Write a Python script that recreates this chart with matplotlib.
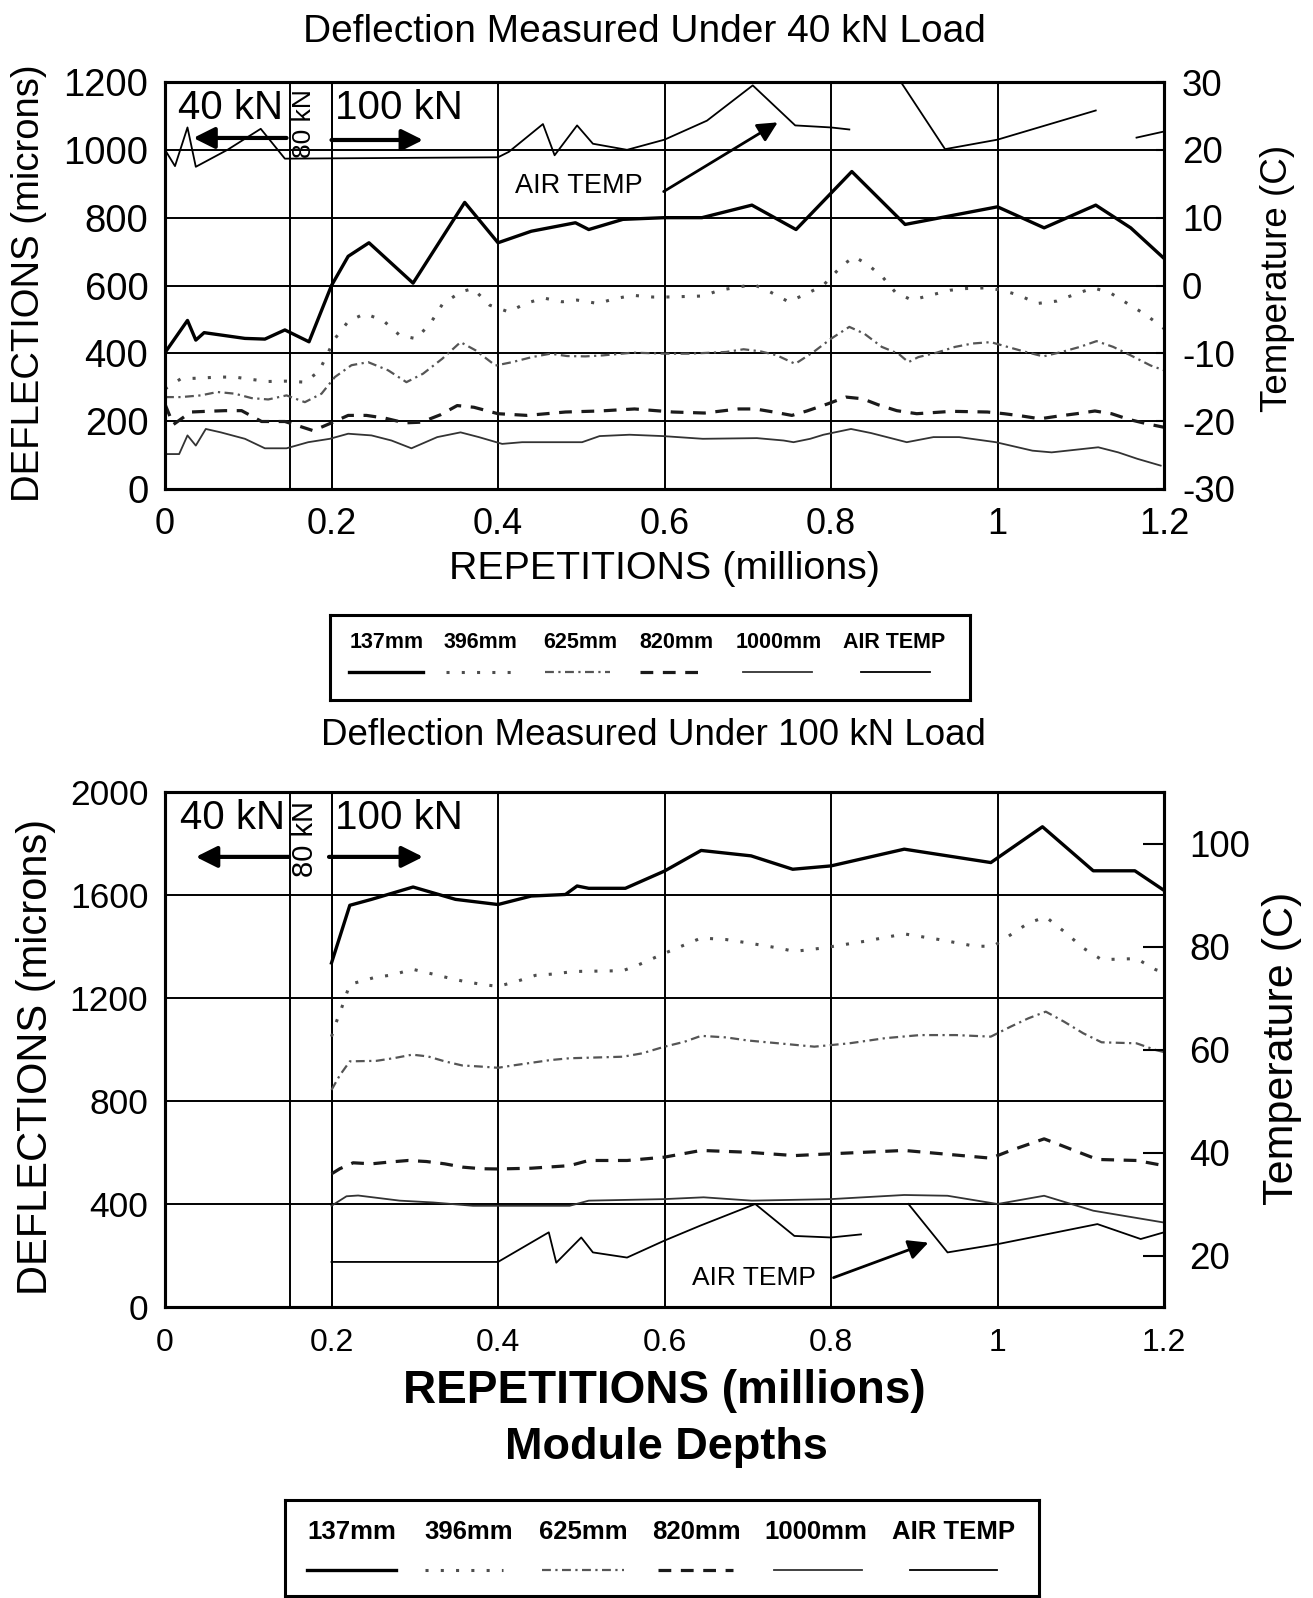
import numpy as np
import matplotlib
matplotlib.use("Agg")
import matplotlib.pyplot as plt
from matplotlib.ticker import FixedLocator, FixedFormatter

plt.rcParams['font.family'] = ['Liberation Sans', 'DejaVu Sans']
plt.rcParams['axes.unicode_minus'] = False

nan = np.nan

# ---------------- data: top chart (40 kN load) ----------------
top_x_137 = [0, 0.027, 0.037, 0.047, 0.096, 0.12, 0.144, 0.173, 0.2, 0.22, 0.245, 0.298, 0.36, 0.4, 0.44,
             0.493, 0.509, 0.55, 0.6, 0.645, 0.705, 0.758, 0.825, 0.889, 1.0, 1.056, 1.118, 1.16, 1.2]
top_d_137 = [402, 497, 439, 461, 444, 442, 469, 434, 600, 686, 726, 607, 845, 726, 760,
             785, 765, 795, 800, 800, 837, 765, 936, 780, 832, 770, 837, 770, 680]

top_x_396 = [0, 0.019, 0.043, 0.063, 0.084, 0.104, 0.124, 0.145, 0.168, 0.185,
             0.204, 0.22, 0.24, 0.262, 0.282, 0.302, 0.32, 0.333, 0.355, 0.37,
             0.39, 0.413, 0.433, 0.455, 0.477, 0.495, 0.52, 0.54, 0.562, 0.586,
             0.602, 0.646, 0.666, 0.707, 0.727, 0.749, 0.771, 0.791, 0.8, 0.814,
             0.828, 0.845, 0.862, 0.877, 0.897, 0.919, 0.943, 0.962, 0.986, 1.006,
             1.026, 1.048, 1.071, 1.093, 1.115, 1.135, 1.156, 1.178, 1.2]
top_d_396 = [295, 325, 327, 330, 330, 323, 317, 318, 315, 347,
             443, 494, 517, 497, 453, 443, 493, 544, 581, 591,
             542, 522, 547, 563, 552, 557, 547, 561, 571, 566,
             566, 569, 586, 603, 581, 552, 576, 601, 625, 660,
             685, 660, 625, 581, 557, 571, 586, 591, 593, 586,
             571, 547, 554, 574, 593, 579, 547, 514, 473]

top_x_625 = [0, 0.019, 0.043, 0.063, 0.084, 0.104, 0.124, 0.146, 0.168, 0.188,
             0.204, 0.224, 0.244, 0.268, 0.29, 0.31, 0.333, 0.355, 0.373, 0.397,
             0.417, 0.441, 0.463, 0.483, 0.505, 0.526, 0.562, 0.602, 0.63, 0.674,
             0.695, 0.715, 0.735, 0.757, 0.779, 0.8, 0.822, 0.84, 0.861, 0.881,
             0.893, 0.905, 0.927, 0.949, 0.97, 0.992, 1.012, 1.034, 1.055, 1.077,
             1.099, 1.119, 1.139, 1.16, 1.184, 1.2]
top_d_625 = [271, 271, 276, 286, 281, 268, 264, 276, 256, 281,
             330, 365, 374, 350, 315, 340, 384, 433, 409, 364,
             374, 389, 399, 392, 391, 394, 402, 399, 399, 404,
             412, 406, 394, 369, 404, 443, 478, 458, 419, 399,
             374, 389, 402, 419, 429, 433, 419, 404, 391, 404,
             419, 436, 419, 394, 364, 350]

top_x_820 = [0, 0.01, 0.031, 0.05, 0.072, 0.092, 0.116, 0.144, 0.178, 0.2,
             0.22, 0.242, 0.264, 0.288, 0.308, 0.331, 0.351, 0.371, 0.4, 0.435,
             0.481, 0.522, 0.564, 0.61, 0.648, 0.689, 0.709, 0.731, 0.753, 0.771,
             0.796, 0.818, 0.838, 0.857, 0.879, 0.903, 0.945, 0.988, 1.008, 1.03,
             1.051, 1.073, 1.095, 1.117, 1.137, 1.158, 1.18, 1.2]
top_d_820 = [250, 190, 227, 229, 231, 231, 199, 199, 172, 195,
             217, 217, 209, 195, 197, 219, 246, 241, 222, 217,
             227, 230, 236, 227, 224, 236, 236, 227, 217, 230,
             251, 271, 266, 248, 231, 222, 229, 227, 222, 215,
             207, 215, 222, 230, 222, 205, 192, 182]

top_x_1000 = [0, 0.017, 0.027, 0.037, 0.049, 0.067, 0.096, 0.12, 0.146, 0.172,
              0.198, 0.22, 0.248, 0.272, 0.296, 0.327, 0.355, 0.377, 0.405, 0.429,
              0.477, 0.501, 0.522, 0.558, 0.598, 0.646, 0.711, 0.743, 0.755, 0.775,
              0.791, 0.824, 0.848, 0.891, 0.923, 0.954, 0.998, 1.042, 1.065, 1.121,
              1.145, 1.168, 1.196]
top_d_1000 = [103, 103, 158, 128, 177, 167, 148, 120, 120, 138,
              148, 163, 158, 143, 120, 153, 167, 153, 133, 138,
              138, 138, 156, 160, 156, 148, 150, 143, 138, 148,
              160, 177, 165, 138, 153, 153, 138, 113, 108, 123,
              108, 89, 69]

top_x_air = [0, 0.012, 0.027, 0.037, 0.075, 0.115, 0.144, 0.4, 0.413, 0.454, 0.468, 0.495, 0.514,
             0.555, 0.6, 0.651, 0.706, 0.757, 0.8, 0.822, 0.85, 0.885, 0.937, 1.0, 1.118, 1.14,
             1.167, 1.2]
top_t_air = [20.0, 17.6, 23.3, 17.5, 20.0, 23.1, 18.7, 18.9, 19.7, 23.8, 19.2, 23.6, 20.9,
             20.0, 21.5, 24.3, 29.5, 23.6, 23.3, 23.0, nan, 29.8, 20.1, 21.5, 25.8, nan,
             21.8, 22.7]

# ---------------- data: bottom chart (100 kN load) ----------------
bot_x_137 = [0.2, 0.222, 0.248, 0.298, 0.349, 0.4, 0.44, 0.481, 0.495, 0.509, 0.553, 0.6, 0.644,
             0.704, 0.754, 0.8, 0.888, 0.992, 1.054, 1.115, 1.165, 1.2]
bot_d_137 = [1336, 1560, 1583, 1631, 1583, 1563, 1596, 1602, 1635, 1626, 1626, 1693, 1773,
             1752, 1700, 1713, 1778, 1726, 1865, 1694, 1694, 1618]

bot_x_396 = [0.2, 0.205, 0.212, 0.222, 0.252, 0.274, 0.297, 0.319, 0.338, 0.357,
             0.38, 0.4, 0.422, 0.445, 0.466, 0.491, 0.55, 0.569, 0.596, 0.615,
             0.644, 0.674, 0.7, 0.737, 0.756, 0.79, 0.84, 0.888, 0.93, 0.973,
             0.995, 1.016, 1.037, 1.058, 1.082, 1.103, 1.125, 1.167, 1.19, 1.2]
bot_d_396 = [1050, 1100, 1160, 1253, 1280, 1290, 1312, 1295, 1280, 1266,
             1253, 1245, 1264, 1288, 1293, 1303, 1306, 1329, 1368, 1394,
             1433, 1427, 1414, 1394, 1381, 1394, 1420, 1449, 1427, 1401,
             1401, 1446, 1491, 1515, 1453, 1394, 1349, 1353, 1310, 1300]

bot_x_625 = [0.2, 0.21, 0.222, 0.254, 0.276, 0.297, 0.316, 0.336, 0.357, 0.378,
             0.4, 0.422, 0.463, 0.486, 0.55, 0.573, 0.6, 0.624, 0.644, 0.674,
             0.7, 0.737, 0.78, 0.822, 0.865, 0.907, 0.95, 0.992, 1.016, 1.037,
             1.058, 1.08, 1.103, 1.125, 1.167, 1.19, 1.2]
bot_d_625 = [843, 900, 954, 956, 967, 980, 973, 954, 938, 934,
             929, 940, 959, 966, 972, 985, 1011, 1030, 1053, 1047,
             1035, 1024, 1011, 1024, 1044, 1056, 1056, 1050, 1089, 1121,
             1147, 1108, 1063, 1028, 1024, 998, 990]

bot_x_820 = [0.2, 0.21, 0.226, 0.248, 0.27, 0.292, 0.314, 0.336, 0.358, 0.38,
             0.4, 0.44, 0.486, 0.509, 0.555, 0.6, 0.644, 0.7, 0.756, 0.8,
             0.888, 0.992, 1.016, 1.056, 1.077, 1.12, 1.167, 1.2]
bot_d_820 = [517, 537, 560, 556, 563, 569, 565, 556, 543, 537,
             536, 539, 549, 569, 569, 582, 608, 601, 588, 595,
             608, 578, 608, 653, 627, 573, 569, 549]

bot_x_1000 = [0.2, 0.218, 0.232, 0.282, 0.322, 0.37, 0.4, 0.486, 0.509, 0.6, 0.647, 0.705, 0.8,
              0.888, 0.94, 1.0, 1.056, 1.115, 1.2]
bot_d_1000 = [393, 430, 433, 413, 406, 393, 393, 393, 413, 419, 426, 413, 419,
              435, 432, 400, 432, 374, 328]

bot_x_air = [0.2, 0.4, 0.461, 0.47, 0.5, 0.514, 0.555, 0.6, 0.643, 0.709, 0.756, 0.8, 0.836,
             0.86, 0.893, 0.94, 1.0, 1.12, 1.172, 1.2]
bot_t_air = [18.75, 18.75, 24.5, 18.6, 23.5, 20.6, 19.6, 22.9, 25.8, 30.0, 23.8, 23.5, 24.1,
             nan, 30.0, 20.6, 22.2, 26.1, 23.2, 24.5]

# ---------------- axes / labels ----------------
series_names = ['137mm', '396mm', '625mm', '820mm', '1000mm', 'AIR TEMP']
x_ticks = [0, 0.2, 0.4, 0.6, 0.8, 1.0, 1.2]
x_tick_labels = ['0', '0.2', '0.4', '0.6', '0.8', '1', '1.2']
load_bounds = [0.15, 0.2]
top_y_ticks = [0, 200, 400, 600, 800, 1000, 1200]
top_t_ticks = [-30, -20, -10, 0, 10, 20, 30]
bot_y_ticks = [0, 400, 800, 1200, 1600, 2000]
bot_t_ticks = [20, 40, 60, 80, 100]

styles = {
    '137mm':   dict(color='black', lw=2.4, ls='-'),
    '396mm':   dict(color='#4d4d4d', lw=2.2, ls=(0, (1, 4))),
    '625mm':   dict(color='#555555', lw=1.6, ls=(0, (4, 2, 1, 2))),
    '820mm':   dict(color='#1a1a1a', lw=2.3, ls=(0, (4, 3))),
    '1000mm':  dict(color='#333333', lw=1.3, ls='-'),
    'AIR TEMP': dict(color='black', lw=1.3, ls='-'),
}

W, H = 1313, 1598
fig = plt.figure(figsize=(W / 100, H / 100), dpi=100)


def px_axes(l, t, r, b):
    return fig.add_axes([l / W, 1 - b / H, (r - l) / W, (b - t) / H])


def style_axes(ax, axt, yticks, ylim, tticks, tlim, xfs, yfs, tfs, xpad, ypad, tpad, tlen):
    ax.set_xlim(0, 1.2)
    ax.set_ylim(*ylim)
    axt.set_ylim(*tlim)
    ax.xaxis.set_major_locator(FixedLocator(x_ticks))
    ax.xaxis.set_major_formatter(FixedFormatter(x_tick_labels))
    ax.yaxis.set_major_locator(FixedLocator(yticks))
    axt.yaxis.set_major_locator(FixedLocator(tticks))
    ax.tick_params(axis='x', length=0, labelsize=xfs, pad=xpad)
    ax.tick_params(axis='y', length=0, labelsize=yfs, pad=ypad)
    axt.tick_params(axis='y', direction='in', length=tlen, width=1.5, labelsize=tfs, pad=tpad)
    ax.grid(True, color='black', lw=1.4)
    ax.set_axisbelow(True)
    for xb in load_bounds:
        ax.axvline(xb, color='black', lw=1.4, zorder=0.5)
    for a in (ax, axt):
        for s in a.spines.values():
            s.set_linewidth(2.2)


def plot_series(ax, axt, data):
    for name, (xs, ys) in data.items():
        target = axt if name == 'AIR TEMP' else ax
        target.plot(xs, ys, **styles[name], label=name)


def legend_box(l, t, r, b, label_y, sample_y, centers, spans, fs):
    lg = px_axes(l, t, r, b)
    lg.set_xlim(l, r)
    lg.set_ylim(b, t)
    lg.set_xticks([])
    lg.set_yticks([])
    for s in lg.spines.values():
        s.set_linewidth(2.2)
    for name, cx, (x1, x2) in zip(series_names, centers, spans):
        lg.text(cx, label_y, name, ha='center', va='center', fontsize=fs, fontweight='bold')
        lg.plot([x1, x2], [sample_y, sample_y], **styles[name])


# ---------------- top chart ----------------
ax1 = px_axes(165, 82, 1164, 489)
ax1t = ax1.twinx()
style_axes(ax1, ax1t, top_y_ticks, (0, 1200), top_t_ticks, (-30, 30),
           xfs=26, yfs=27.5, tfs=26.5, xpad=13, ypad=12, tpad=13, tlen=6)
plot_series(ax1, ax1t, {
    '137mm': (top_x_137, top_d_137), '396mm': (top_x_396, top_d_396),
    '625mm': (top_x_625, top_d_625), '820mm': (top_x_820, top_d_820),
    '1000mm': (top_x_1000, top_d_1000), 'AIR TEMP': (top_x_air, top_t_air)})
ax1.set_title('Deflection Measured Under 40 kN Load', fontsize=28, x=0.4795, y=1.123,
              va='center', pad=0)
ax1.set_xlabel('REPETITIONS (millions)', fontsize=28.4)
ax1.xaxis.set_label_coords(0.4995, -0.197)
ax1.xaxis.label.set_va('center')
ax1.set_ylabel('DEFLECTIONS (microns)', fontsize=27.5)
ax1.yaxis.set_label_coords(-0.1366, 0.506)
ax1.yaxis.label.set_va('center')
ax1t.set_ylabel('Temperature (C)', fontsize=26.5, rotation=90)
ax1t.yaxis.set_label_coords(1.114, 0.518)
ax1t.yaxis.label.set_va('center')

ax1.text(0.016, 1123, '40 kN', fontsize=29, ha='left', va='center')
ax1.text(0.204, 1123, '100 kN', fontsize=29, ha='left', va='center')
ax1.text(0.1665, 1077, '80 kN', fontsize=19, rotation=90, ha='center', va='center')
arrow_kw = dict(arrowstyle='-|>', lw=3, color='black', mutation_scale=32, shrinkA=0, shrinkB=0)
ax1.annotate('', xy=(0.034, 1035), xytext=(0.146, 1035), arrowprops=arrow_kw)
ax1.annotate('', xy=(0.31, 1029), xytext=(0.2, 1029), arrowprops=arrow_kw)
ax1.text(0.4975, 894, 'AIR TEMP', fontsize=19.5, ha='center', va='center')
ax1.annotate('', xy=(0.736, 1081), xytext=(0.599, 877),
             arrowprops=dict(arrowstyle='-|>', lw=2, color='black', mutation_scale=30,
                             shrinkA=0, shrinkB=0))

legend_box(330, 615, 970, 700, 643, 672,
           [387, 480, 580, 676, 779, 894],
           [(349, 423), (446, 516), (545, 610), (640, 705), (743, 812), (861, 930)], 15.5)

# ---------------- bottom chart ----------------
ax2 = px_axes(165, 792, 1164, 1307)
ax2t = ax2.twinx()
style_axes(ax2, ax2t, bot_y_ticks, (0, 2000), bot_t_ticks, (10, 110),
           xfs=23, yfs=25.5, tfs=26.5, xpad=15, ypad=12, tpad=18, tlen=15)
plot_series(ax2, ax2t, {
    '137mm': (bot_x_137, bot_d_137), '396mm': (bot_x_396, bot_d_396),
    '625mm': (bot_x_625, bot_d_625), '820mm': (bot_x_820, bot_d_820),
    '1000mm': (bot_x_1000, bot_d_1000), 'AIR TEMP': (bot_x_air, bot_t_air)})
ax2.set_title('Deflection Measured Under 100 kN Load', fontsize=26.5, x=0.4885, y=1.109,
              va='center', pad=0)
ax2.set_xlabel('REPETITIONS (millions)', fontsize=33, fontweight='bold')
ax2.xaxis.set_label_coords(0.4995, -0.164)
ax2.xaxis.label.set_va('center')
ax2.set_ylabel('DEFLECTIONS (microns)', fontsize=30)
ax2.yaxis.set_label_coords(-0.129, 0.485)
ax2.yaxis.label.set_va('center')
ax2t.set_ylabel('Temperature (C)', fontsize=31, rotation=90)
ax2t.yaxis.set_label_coords(1.118, 0.503)
ax2t.yaxis.label.set_va('center')

ax2.text(0.018, 1898, '40 kN', fontsize=29, ha='left', va='center')
ax2.text(0.204, 1898, '100 kN', fontsize=29, ha='left', va='center')
ax2.text(0.1685, 1818, '80 kN', fontsize=21, rotation=90, ha='center', va='center')
ax2.annotate('', xy=(0.037, 1748), xytext=(0.149, 1748), arrowprops=arrow_kw)
ax2.annotate('', xy=(0.31, 1748), xytext=(0.197, 1748), arrowprops=arrow_kw)
ax2.text(0.708, 111, 'AIR TEMP', fontsize=19, ha='center', va='center')
ax2.annotate('', xy=(0.917, 250), xytext=(0.803, 114),
             arrowprops=dict(arrowstyle='-|>', lw=2, color='black', mutation_scale=30,
                             shrinkA=0, shrinkB=0))

fig.text(666 / W, 1 - 1447.5 / H, 'Module Depths', fontsize=32.5, fontweight='bold',
         ha='center', va='center')

legend_box(285, 1500, 1039, 1596, 1532, 1570,
           [352, 469, 583, 696, 816, 954],
           [(307, 396), (425, 503), (542, 624), (658, 733), (774, 862), (910, 997)], 18.5)

fig.savefig('out.png', dpi=100)
